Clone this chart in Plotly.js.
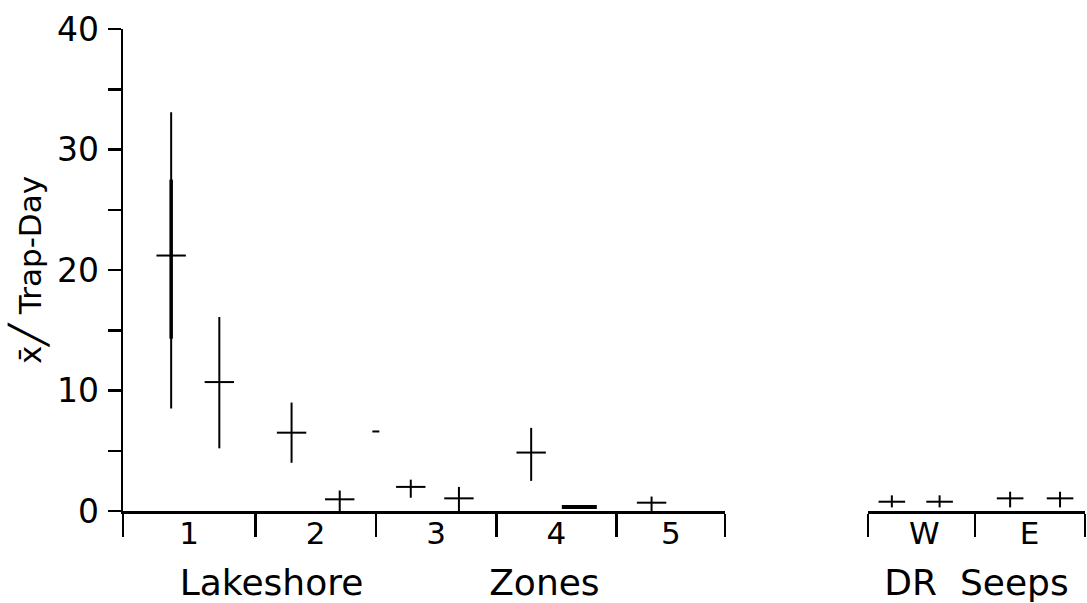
<!DOCTYPE html>
<html>
<head>
<meta charset="utf-8">
<script src="https://cdn.plot.ly/plotly-3.0.1.min.js"></script>
<style>html,body{margin:0;padding:0;background:#fff;}#chart{width:1087px;height:603px;}</style>
</head>
<body>
<div id="chart"></div>
<script>
// ---- Data ----
// Lakeshore zones: x position inside the zone axis (zone boundaries below)
const zoneEdges = [0, 1.1, 2.1, 3.1, 4.1, 5.0];
const zoneMid = [0.55, 1.6, 2.6, 3.6, 4.55];
const zoneLabels = ['1', '2', '3', '4', '5'];
const lakeX = [0.40, 0.80, 1.40, 1.80, 2.39, 2.79, 3.39, 4.39];
const lakeMean = [21.2, 10.7, 6.5, 0.97, 2.0, 1.05, 4.85, 0.69];
const lakeUpper = [33.1, 16.1, 9.0, 1.7, 2.6, 2.0, 6.9, 1.2];
const lakeLower = [8.5, 5.2, 4.0, 0.0, 1.1, 0.0, 2.5, 0.0];
// inner (narrower) interval drawn on zone 1's first point
const innerX = [0.40];
const innerMean = [21.2];
const innerUpper = [27.5];
const innerLower = [14.3];
// flat mean with no visible interval (zone 4)
const flatX = [3.79];
const flatMean = [0.33];
// small stray dash
const strayX = [2.1];
const strayY = [6.6];
// DR seeps
const seepEdges = [0, 0.986, 2];
const seepMid = [0.52, 1.49];
const seepLabels = ['W', 'E'];
const seepX = [0.22, 0.66, 1.31, 1.77];
const seepMean = [0.77, 0.77, 1.05, 1.05];
const seepUpper = [1.3, 1.3, 1.6, 1.6];
const seepLower = [0.3, 0.3, 0.3, 0.3];
// y axis ticks
const yTickVals = [0, 5, 10, 15, 20, 25, 30, 35, 40];
const yTickText = ['0', '', '10', '', '20', '', '30', '', '40'];

const FONT = 'DejaVu Sans, Liberation Sans, sans-serif';
const INK = '#000';
const NB = '\u00a0';
const ZW = '\u200b';
const diff = (a, b) => a.map((v, i) => v - b[i]);

function crossTrace(x, mean, upper, lower, xa, size, thick) {
  return {
    type: 'scatter', mode: 'markers', x: x, y: mean, xaxis: xa, yaxis: 'y',
    marker: {symbol: 'line-ew', size: size, color: INK, line: {color: INK, width: 2}},
    error_y: {type: 'data', symmetric: false, array: diff(upper, mean), arrayminus: diff(mean, lower),
              color: INK, thickness: thick, width: 0},
    showlegend: false, hoverinfo: 'x+y'
  };
}

const traces = [
  crossTrace(lakeX, lakeMean, lakeUpper, lakeLower, 'x', 21, 2),
  {
    type: 'scatter', mode: 'markers', x: innerX, y: innerMean, xaxis: 'x', yaxis: 'y',
    marker: {symbol: 'line-ew', size: 1, color: INK, line: {color: INK, width: 0}},
    error_y: {type: 'data', symmetric: false, array: diff(innerUpper, innerMean), arrayminus: diff(innerMean, innerLower),
              color: INK, thickness: 3.5, width: 0},
    showlegend: false
  },
  {
    type: 'scatter', mode: 'markers', x: flatX, y: flatMean, xaxis: 'x', yaxis: 'y',
    marker: {symbol: 'line-ew', size: 25, color: INK, line: {color: INK, width: 4}},
    showlegend: false
  },
  {
    type: 'scatter', mode: 'markers', x: strayX, y: strayY, xaxis: 'x', yaxis: 'y',
    marker: {symbol: 'line-ew', size: 5, color: INK, line: {color: INK, width: 2}},
    showlegend: false
  },
  crossTrace(seepX, seepMean, seepUpper, seepLower, 'x2', 19, 2)
];

const lakeDomain = [0, 0.6258];
const seepDomain = [0.7744, 1];
const edgeAxis = {
  showline: true, linecolor: INK, linewidth: 2.5, ticks: 'outside', ticklen: 23, tickwidth: 2.5,
  tickcolor: INK, showgrid: false, zeroline: false, fixedrange: true, anchor: 'y'
};
const labelAxis = {
  showline: false, ticks: '', showgrid: false, zeroline: false, fixedrange: true,
  tickfont: {family: FONT, size: 31, color: INK}, ticklabelstandoff: 1, anchor: 'y'
};

const layout = {
  width: 1087, height: 603,
  margin: {l: 123, r: 2, t: 29, b: 92},
  paper_bgcolor: '#fff', plot_bgcolor: '#fff',
  font: {family: FONT, color: INK},
  showlegend: false,
  xaxis: Object.assign({}, edgeAxis, {
    domain: lakeDomain, range: [0, 5], tickvals: zoneEdges, ticktext: zoneEdges.map(() => ''),
    title: {text: 'Lakeshore' + NB.repeat(11) + 'Zones' + NB.repeat(6) + ZW,
            font: {family: FONT, size: 36, color: INK}, standoff: 32}
  }),
  xaxis3: Object.assign({}, labelAxis, {
    overlaying: 'x', range: [0, 5], tickvals: zoneMid, ticktext: zoneLabels
  }),
  xaxis2: Object.assign({}, edgeAxis, {
    domain: seepDomain, range: [0, 2], tickvals: seepEdges, ticktext: seepEdges.map(() => ''),
    title: {text: 'DR' + NB.repeat(2) + 'Seeps', font: {family: FONT, size: 36, color: INK}, standoff: 32}
  }),
  xaxis4: Object.assign({}, labelAxis, {
    overlaying: 'x2', range: [0, 2], tickvals: seepMid, ticktext: seepLabels
  }),
  yaxis: {
    range: [0, 40], tickvals: yTickVals, ticktext: yTickText,
    showline: true, linecolor: INK, linewidth: 2.5, ticks: 'outside', ticklen: 13, tickwidth: 2.5, tickcolor: INK,
    showgrid: false, zeroline: false, fixedrange: true, anchor: 'x',
    tickfont: {family: FONT, size: 33, color: INK}, ticklabelstandoff: 2,
    title: {text: NB + NB + 'x\u0304<span style="font-size:36px">\u2571</span>' + NB + 'Trap-Day',
            font: {family: FONT, size: 31, color: INK}, standoff: 6}
  }
};

// phantom traces so the label axes are drawn
traces.push({type: 'scatter', x: [], y: [], xaxis: 'x3', yaxis: 'y', showlegend: false});
traces.push({type: 'scatter', x: [], y: [], xaxis: 'x4', yaxis: 'y', showlegend: false});

Plotly.newPlot('chart', traces, layout, {staticPlot: true, displayModeBar: false});
</script>
</body>
</html>
